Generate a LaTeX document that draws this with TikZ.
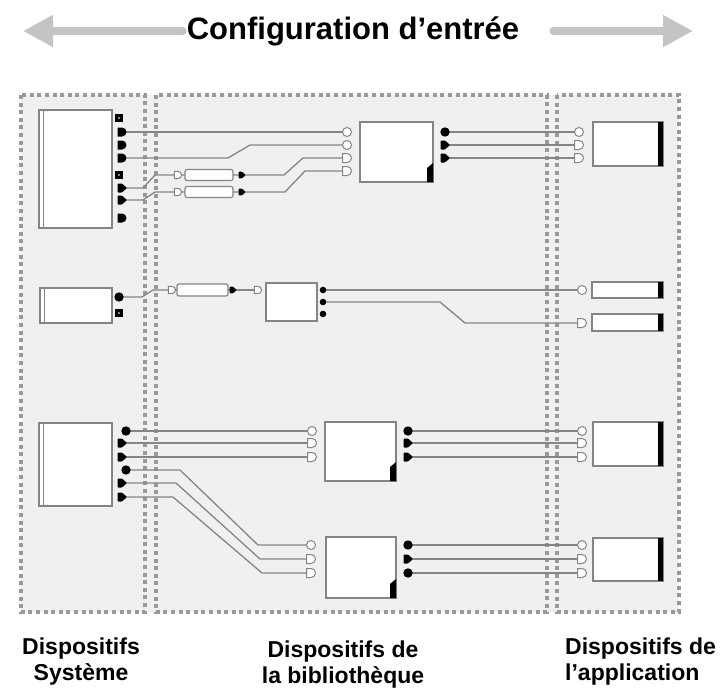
\documentclass[tikz,border=0pt]{standalone}
\usepackage{fontspec}
\setmainfont{Liberation Sans}
\usetikzlibrary{arrows.meta, positioning, calc}

\definecolor{panelgray}{HTML}{F0F0F0}
\definecolor{dotgray}{HTML}{999999}
\definecolor{wiregray}{HTML}{858585}
\definecolor{arrowgray}{HTML}{C4C4C4}

\tikzset{
  panel/.style={draw=dotgray, line width=4pt, dash pattern=on 4pt off 3.6pt},
  wire/.style={draw=wiregray, line width=1.3pt},
  dev/.style={draw=wiregray, fill=white, line width=1.2pt, rectangle, inner sep=0pt, outer sep=0pt, anchor=north west},
  conv/.style={dev, rounded corners=2pt, anchor=west},
  fleche/.style={draw=arrowgray, line width=8pt, line cap=round, -{Triangle[length=30pt, width=30pt]}},
  lbl/.style={font=\bfseries\fontsize{23}{26}\selectfont, inner sep=0pt},
  % ports
  pics/outD/.style={code={\fill (-4.5,-4.5) -- (0,-4.5) arc[start angle=-90, end angle=90, radius=4.5] -- (-4.5,4.5) -- cycle;}},
  pics/outT/.style={code={\fill[rounded corners=0.8pt] (-4.5,-4.5) -- (0,-4.5) -- (5,0) -- (0,4.5) -- (-4.5,4.5) -- cycle;}},
  pics/outO/.style={code={\fill (0,0) circle (4.7);}},
  pics/outS/.style={code={\fill (-4.2,-4.2) rectangle (4.2,4.2); \fill[gray] (-1.2,-1.2) rectangle (1.2,1.2);}},
  pics/inO/.style={code={\filldraw[fill=white, draw=wiregray, line width=1pt] (0,0) circle (4.5);}},
  pics/inD/.style={code={\filldraw[fill=white, draw=wiregray, line width=1pt] (-4.5,-4.5) -- (0,-4.5) arc[start angle=-90, end angle=90, radius=4.5] -- (-4.5,4.5) -- cycle;}},
}

\begin{document}
\begin{tikzpicture}[x=1pt, y=-1pt]
  \useasboundingbox (0,0) rectangle (726,691);

  % title with the two grey arrows
  \node[font=\bfseries\fontsize{31}{36}\selectfont, inner sep=0pt] (titre) at (353,31) {Configuration d’entrée};
  \coordinate (gauche) at (23,31);
  \coordinate (droite) at (693,31);
  \draw[fleche] ([xshift=-4pt]titre.west) -- (gauche);
  \draw[fleche] ([xshift=34pt]titre.east) -- (droite);

  % the three dotted panels
  \fill[panelgray] (21,95) rectangle (679,612);
  \draw[panel] (21,95) rectangle (145,612);
  \draw[panel] (156,95) rectangle (547,612);
  \draw[panel] (557,95) rectangle (679,612);

  % port positions, first row
  \coordinate (sA1) at (119,118); \coordinate (sA2) at (122,132);
  \coordinate (sA3) at (122,145); \coordinate (sA4) at (122,158);
  \coordinate (sA5) at (119,175); \coordinate (sA6) at (122,188);
  \coordinate (sA7) at (122,200); \coordinate (sA8) at (122,218);
  \coordinate (cvAin) at (178,175); \coordinate (cvAout) at (242,175);
  \coordinate (cvBin) at (178,192); \coordinate (cvBout) at (242,192);
  \coordinate (bA1) at (347,132); \coordinate (bA2) at (347,145);
  \coordinate (bA3) at (347,158); \coordinate (bA4) at (347,171);
  \coordinate (bA5) at (445,132); \coordinate (bA6) at (445,145);
  \coordinate (bA7) at (445,158);
  \coordinate (aA1) at (579,132); \coordinate (aA2) at (579,145);
  \coordinate (aA3) at (579,158);
  % second row
  \coordinate (sB1) at (119,297); \coordinate (sB2) at (119,313);
  \coordinate (cvCin) at (172,290); \coordinate (cvCout) at (233,290);
  \coordinate (bB1) at (258,290);
  \coordinate (bB2) at (323,290); \coordinate (bB3) at (323,302);
  \coordinate (bB4) at (323,314);
  \coordinate (aB1) at (582,290); \coordinate (aC1) at (582,323);
  % third row
  \coordinate (sC1) at (126,431); \coordinate (sC2) at (122,443);
  \coordinate (sC3) at (122,457); \coordinate (sC4) at (126,470);
  \coordinate (sC5) at (122,483); \coordinate (sC6) at (122,497);
  \coordinate (bC1) at (312,431); \coordinate (bC2) at (312,443);
  \coordinate (bC3) at (312,457);
  \coordinate (bC4) at (408,431); \coordinate (bC5) at (408,443);
  \coordinate (bC6) at (408,457);
  \coordinate (aD1) at (582,431); \coordinate (aD2) at (582,443);
  \coordinate (aD3) at (582,457);
  \coordinate (bD1) at (311,545); \coordinate (bD2) at (311,559);
  \coordinate (bD3) at (311,573);
  \coordinate (bD4) at (408,545); \coordinate (bD5) at (408,559);
  \coordinate (bD6) at (408,573);
  \coordinate (aE1) at (582,545); \coordinate (aE2) at (582,559);
  \coordinate (aE3) at (582,573);

  % devices
  \node[dev, minimum width=73, minimum height=118] (sysA) at (39,110) {};
  \node[dev, minimum width=72, minimum height=35] (sysB) at (40,288) {};
  \node[dev, minimum width=73, minimum height=83] (sysC) at (39,423) {};
  \node[conv, minimum width=48, minimum height=11] (cvA) at (185,175) {};
  \node[conv, minimum width=48, minimum height=11] (cvB) at (185,192) {};
  \node[conv, minimum width=51, minimum height=12] (cvC) at (177,290) {};
  \node[dev, minimum width=73, minimum height=60] (bibA) at (360,122) {};
  \node[dev, minimum width=51, minimum height=38] (bibB) at (266,283) {};
  \node[dev, minimum width=71, minimum height=59] (bibC) at (325,422) {};
  \node[dev, minimum width=70, minimum height=61] (bibD) at (326,537) {};
  \node[dev, minimum width=70, minimum height=44] (appA) at (593,122) {};
  \node[dev, minimum width=71, minimum height=16] (appB) at (592,282) {};
  \node[dev, minimum width=71, minimum height=17] (appC) at (592,314) {};
  \node[dev, minimum width=70, minimum height=44] (appD) at (593,422) {};
  \node[dev, minimum width=70, minimum height=43] (appE) at (593,538) {};

  % wires
  \draw[wire] (sA2) -- (bA1);
  \draw[wire] (sA4) -- (228,158) -- (250,145) -- (bA2);
  \draw[wire] (sA6) -- (143,188) -- (155,175) -- (cvAin) -- (cvA);
  \draw[wire] (sA7) -- (143,200) -- (155,192) -- (cvBin) -- (cvB);
  \draw[wire] (cvA) -- (cvAout) -- (284,175) -- (303,158) -- (bA3);
  \draw[wire] (cvB) -- (cvBout) -- (285,192) -- (305,171) -- (bA4);
  \draw[wire] (bA5) -- (aA1);
  \draw[wire] (bA6) -- (aA2);
  \draw[wire] (bA7) -- (aA3);
  \draw[wire] (sB1) -- (142,297) -- (153,290) -- (cvCin) -- (cvC);
  \draw[wire] (cvC) -- (cvCout) -- (bB1);
  \draw[wire] (bB2) -- (aB1);
  \draw[wire] (bB3) -- (440,302) -- (465,323) -- (aC1);
  \draw[wire] (sC1) -- (bC1);
  \draw[wire] (sC2) -- (bC2);
  \draw[wire] (sC3) -- (bC3);
  \draw[wire] (bC4) -- (aD1);
  \draw[wire] (bC5) -- (aD2);
  \draw[wire] (bC6) -- (aD3);
  \draw[wire] (sC4) -- (180,470) -- (258,545) -- (bD1);
  \draw[wire] (sC5) -- (176,483) -- (260,559) -- (bD2);
  \draw[wire] (sC6) -- (173,497) -- (262,573) -- (bD3);
  \draw[wire] (bD4) -- (aE1);
  \draw[wire] (bD5) -- (aE2);
  \draw[wire] (bD6) -- (aE3);

  % double left edge of system devices
  \foreach \s in {sysA, sysB, sysC}
    \draw[wiregray, line width=1pt] ([xshift=4pt]\s.north west) -- ([xshift=4pt]\s.south west);
  % black corner mark of library devices
  \foreach \b in {bibA, bibC, bibD}
    \fill (\b.south east) -- ++(-6,0) -- ++(0,-14) -- ++(6,-5) -- cycle;
  % thick right edge of application devices
  \foreach \a in {appA, appB, appC, appD, appE}
    \draw[line width=5pt] ([xshift=-2.5pt]\a.north east) -- ([xshift=-2.5pt]\a.south east);

  % ports
  \foreach \p in {sA1, sA5, sB2} \pic at (\p) {outS};
  \foreach \p in {sA2, sA3, sA4, sA8} \pic at (\p) {outD};
  \foreach \p in {sA6, sA7, sC2, sC3, sC5, sC6, bA6, bA7, bC5, bC6, bD5} \pic at (\p) {outT};
  \foreach \p in {sB1, sC1, sC4, bA5, bC4, bD4, bD6} \pic at (\p) {outO};
  \foreach \p in {bB2, bB3, bB4} \pic[scale=0.7] at (\p) {outO};
  \foreach \p in {cvAout, cvBout, cvCout} \pic[scale=0.75] at (\p) {outT};
  \foreach \p in {cvAin, cvBin, cvCin, bB1} \pic[scale=0.8] at (\p) {inD};
  \foreach \p in {bA1, bA2, aA1, aB1, bC1, aD1, bD1, aE1} \pic at (\p) {inO};
  \foreach \p in {bA3, bA4, aA2, aA3, aC1, bC2, bC3, aD2, aD3, bD2, bD3, aE2, aE3} \pic at (\p) {inD};

  % column labels
  \node[lbl, align=center] (lsys) at (81,662) {Dispositifs\\Système};
  \node[lbl, align=center] (lbib) at (343,665) {Dispositifs de\\la bibliothèque};
  \node[lbl, align=left, anchor=west] (lapp) at (565,662) {Dispositifs de\\l’application};
\end{tikzpicture}
\end{document}
